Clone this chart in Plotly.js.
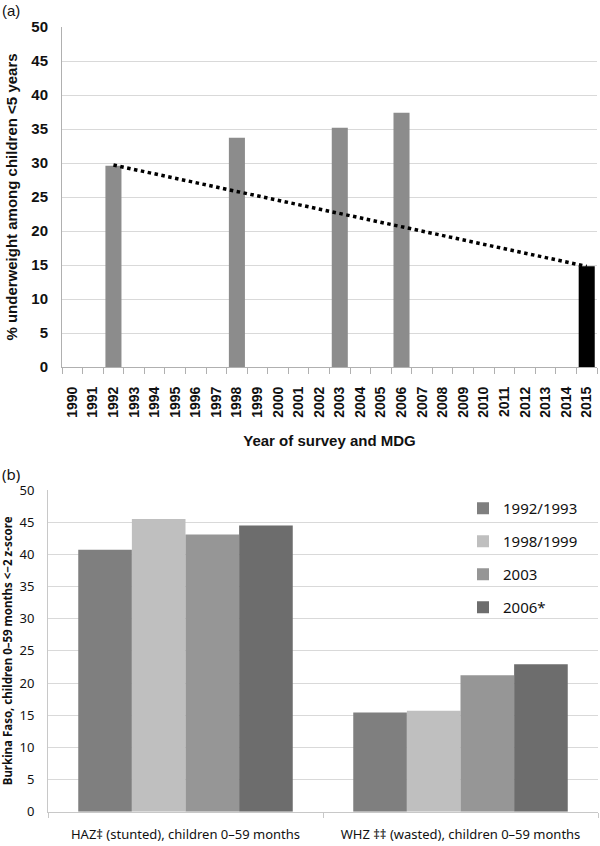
<!DOCTYPE html>
<html>
<head>
<meta charset="utf-8">
<script src="https://cdn.plot.ly/plotly-3.0.1.min.js"></script>
<style>html,body{margin:0;padding:0;background:#fff;}#chart{width:600px;height:846px;}</style>
</head>
<body>
<div id="chart"></div>
<script>
// ---- Panel (a) data ----
const years = ["1990","1991","1992","1993","1994","1995","1996","1997","1998","1999","2000","2001","2002","2003","2004","2005","2006","2007","2008","2009","2010","2011","2012","2013","2014","2015"];
const surveyYears = ["1992","1998","2003","2006"];
const surveyUnderweight = [29.6, 33.7, 35.2, 37.4];
const mdgYear = ["2015"];
const mdgTarget = [14.8];
const trendYears = ["1992","2015"];
const trendValues = [29.7, 14.8];

// ---- Panel (b) data ----
const indicators = ["HAZ‡ (stunted), children 0–59 months", "WHZ ‡‡ (wasted), children 0–59 months"];
const surveyLabels = ["1992/1993", "1998/1999", "2003", "2006*"];
const s1992 = [40.7, 15.4];
const s1998 = [45.5, 15.7];
const s2003 = [43.1, 21.2];
const s2006 = [44.5, 22.9];
const seriesB = [s1992, s1998, s2003, s2006];
const colorsB = ["#7f7f7f", "#bfbfbf", "#969696", "#6d6d6d"];

const fontA = "Liberation Sans, Arial, sans-serif";
const fontB = "Noto Sans, Open Sans, sans-serif";

const traces = [
  // invisible trace registering every year as a category
  {type: "scatter", mode: "none", x: years, y: years.map(() => null), xaxis: "x", yaxis: "y",
   showlegend: false, hoverinfo: "skip"},
  {type: "bar", x: surveyYears, y: surveyUnderweight, xaxis: "x", yaxis: "y",
   marker: {color: "#8c8c8c"}, showlegend: false, hoverinfo: "x+y"},
  {type: "bar", x: mdgYear, y: mdgTarget, xaxis: "x", yaxis: "y",
   marker: {color: "#000000"}, showlegend: false},
  {type: "scatter", mode: "lines", x: trendYears, y: trendValues, xaxis: "x", yaxis: "y",
   line: {color: "#000", width: 3.5, dash: "dot"}, showlegend: false}
];
seriesB.forEach((vals, i) => {
  traces.push({type: "bar", x: indicators, y: vals, name: surveyLabels[i], xaxis: "x2", yaxis: "y2",
    marker: {color: colorsB[i]}, legendgroup: "g" + i});
});

const layout = {
  width: 600, height: 846,
  margin: {l: 0, r: 0, t: 0, b: 0},
  paper_bgcolor: "#fff", plot_bgcolor: "#fff",
  barmode: "group",
  bargap: 0.22,
  showlegend: true,
  xaxis: {
    domain: [62/600, 597/600], anchor: "y", type: "category",
    categoryorder: "array", categoryarray: years,
    range: [-0.5, years.length - 0.5],
    tickson: "boundaries", ticks: "outside", ticklen: 6, tickcolor: "#b0b0b0",
    tickangle: -90, ticklabelstandoff: 13,
    tickfont: {family: fontA, size: 14, color: "#111", weight: "bold"},
    showgrid: false, showline: true, linecolor: "#b0b0b0", linewidth: 1,
    zeroline: false,
    title: {text: "Year of survey and MDG", font: {family: fontA, size: 15, color: "#111", weight: "bold"}, standoff: 18}
  },
  yaxis: {
    domain: [1 - 367/846, 1 - 27/846], anchor: "x",
    range: [0, 50], dtick: 5, tick0: 0,
    showgrid: true, gridcolor: "#d9d9d9", gridwidth: 1,
    showline: true, linecolor: "#b0b0b0", linewidth: 1, zeroline: false,
    ticks: "", ticklabelstandoff: 10,
    tickfont: {family: fontA, size: 15, color: "#111", weight: "bold"},
    title: {text: "% underweight among children <5 years", font: {family: fontA, size: 15, color: "#111", weight: "bold"}, standoff: 10}
  },
  xaxis2: {
    domain: [48/600, 598/600], anchor: "y2", type: "category",
    tickson: "boundaries", ticks: "outside", ticklen: 5, tickcolor: "#c8c8c8",
    ticklabelstandoff: 11,
    tickfont: {family: fontB, size: 13, color: "#111"},
    showgrid: false, showline: true, linecolor: "#c8c8c8", linewidth: 1, zeroline: false
  },
  yaxis2: {
    domain: [1 - 811.7/846, 1 - 490/846], anchor: "x2",
    range: [0, 50], dtick: 5, tick0: 0,
    showgrid: true, gridcolor: "#d9d9d9", gridwidth: 1,
    showline: true, linecolor: "#c8c8c8", linewidth: 1, zeroline: false,
    ticks: "", ticklabelstandoff: 10,
    tickfont: {family: fontB, size: 13, color: "#111"},
    title: {text: "Burkina Faso, children 0–59 months <−2 z-score", font: {family: fontB, size: 11.5, color: "#111", weight: "bold"}, standoff: 8}
  },
  legend: {
    x: 463/600, y: 1 - 492/846, xanchor: "left", yanchor: "top",
    bgcolor: "rgba(0,0,0,0)", borderwidth: 0,
    font: {family: fontB, size: 15, color: "#111"},
    tracegroupgap: 10.5, itemwidth: 30
  },
  annotations: [
    {text: "(a)", xref: "paper", yref: "paper", x: 0, y: 1, xanchor: "left", yanchor: "top",
     showarrow: false, font: {family: fontA, size: 15, color: "#111"}},
    {text: "(b)", xref: "paper", yref: "paper", x: 0, y: 1 - 462/846, xanchor: "left", yanchor: "top",
     showarrow: false, font: {family: fontB, size: 15, color: "#111"}}
  ]
};

Plotly.newPlot("chart", traces, layout, {staticPlot: true, displayModeBar: false});
</script>
</body>
</html>
